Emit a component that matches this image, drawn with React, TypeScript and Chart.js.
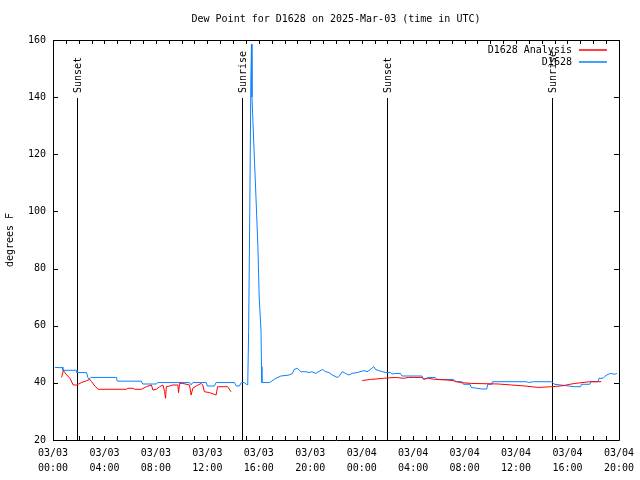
import { useEffect, useRef } from 'react';
import { Chart, registerables } from 'chart.js';

Chart.register(...registerables);

const FONT = '"DejaVu Sans Mono", "Liberation Mono", monospace';

const chartTitle = 'Dew Point for D1628 on 2025-Mar-03 (time in UTC)';
const yAxisTitle = 'degrees F';

// hours since 2025-03-03 00:00 UTC
const xTickHours = [0, 4, 8, 12, 16, 20, 24, 28, 32, 36, 40, 44];
const xTickDates = ['03/03', '03/03', '03/03', '03/03', '03/03', '03/03', '03/04', '03/04', '03/04', '03/04', '03/04', '03/04'];
const xTickTimes = ['00:00', '04:00', '08:00', '12:00', '16:00', '20:00', '00:00', '04:00', '08:00', '12:00', '16:00', '20:00'];

const sunEventHours = [1.86, 14.7, 25.97, 38.8];
const sunEventLabels = ['Sunset', 'Sunrise', 'Sunset', 'Sunrise'];

const analysisLabel = 'D1628 Analysis';
const analysisHours1 = [0.67, 0.8, 1.06, 1.32, 1.57, 1.84, 2.22, 2.61, 2.87, 3.0, 3.25, 3.51, 5.71, 5.83, 6.22, 6.35, 6.87, 7.26, 7.65, 7.77, 8.03, 8.29, 8.54, 8.68, 8.75, 8.81, 9.06, 9.32, 9.71, 9.76, 9.84, 10.09, 10.61, 10.74, 10.87, 11.13, 11.52, 11.64, 11.77, 12.16, 12.68, 12.8, 13.58, 13.84];
const analysisValues1 = [41.9, 44.3, 42.8, 41.6, 39.25, 39.25, 40.1, 40.75, 41.2, 40.4, 38.9, 37.75, 37.75, 38.1, 38.1, 37.75, 37.75, 38.65, 39.25, 37.5, 37.75, 38.65, 39.25, 36.9, 34.6, 38.65, 38.9, 39.25, 39.25, 36.6, 39.8, 39.8, 39.25, 35.75, 38.1, 38.9, 39.8, 39.25, 36.9, 36.6, 35.75, 38.65, 38.65, 36.9];
const analysisHours2 = [24.04, 24.69, 25.72, 26.62, 27.27, 27.65, 28.68, 28.82, 29.2, 29.72, 30.62, 31.14, 31.66, 32.56, 34.63, 35.66, 36.69, 37.72, 38.75, 39.66, 40.18, 40.57, 41.73, 42.63];
const analysisValues2 = [40.8, 41.2, 41.6, 41.9, 41.6, 41.9, 41.9, 41.35, 41.6, 41.2, 41.0, 40.75, 40.1, 39.8, 39.6, 39.25, 38.9, 38.4, 38.65, 39.0, 39.5, 39.8, 40.4, 40.4];

const obsLabel = 'D1628';
const obsHours = [0.15, 0.62, 0.7, 0.77, 1.84, 1.86, 2.61, 2.71, 2.81, 2.94, 4.93, 5.0, 6.87, 6.97, 8.03, 8.13, 10.61, 10.74, 10.87, 11.91, 12.0, 12.55, 12.68, 14.1, 14.25, 14.49, 14.64, 14.87, 15.03, 15.14, 15.21, 15.3, 15.38, 15.43, 15.47, 15.57, 15.67, 15.78, 15.93, 16.03, 16.17, 16.21, 16.24, 16.81, 16.94, 17.33, 17.72, 18.36, 18.62, 18.75, 19.0, 19.27, 19.65, 19.91, 20.12, 20.43, 20.94, 21.2, 21.46, 21.71, 22.1, 22.23, 22.49, 22.75, 23.0, 23.26, 23.65, 24.17, 24.42, 24.69, 24.94, 25.07, 25.33, 25.85, 26.24, 26.37, 26.62, 27.01, 27.14, 28.68, 28.82, 29.2, 29.72, 29.85, 31.14, 31.27, 31.78, 31.91, 32.43, 32.51, 32.95, 33.33, 33.72, 33.8, 34.11, 34.16, 36.82, 36.95, 37.34, 38.75, 38.88, 39.01, 39.92, 40.57, 41.03, 41.08, 41.73, 41.81, 42.37, 42.45, 42.76, 42.89, 43.15, 43.4, 43.66, 43.84];
const obsValues = [45.4, 45.3, 45.5, 44.4, 44.4, 43.6, 43.6, 41.9, 41.3, 41.9, 41.9, 40.6, 40.6, 39.6, 39.6, 40.1, 40.1, 39.3, 40.1, 40.1, 38.9, 38.9, 40.1, 40.1, 38.9, 38.9, 40.1, 40.1, 39.5, 39.3, 58, 100, 145, 158.5, 140, 128.5, 117, 105, 87.7, 70, 58.5, 45.7, 40.1, 40.1, 40.4, 41.6, 42.4, 42.75, 43.3, 44.7, 45.1, 43.9, 43.9, 43.6, 43.9, 43.3, 44.7, 43.9, 43.6, 42.75, 41.9, 42.2, 43.9, 43.3, 42.75, 43.3, 43.6, 44.3, 43.9, 44.7, 45.7, 44.7, 44.3, 43.6, 43.6, 43.1, 43.3, 43.3, 42.4, 42.4, 41.2, 41.9, 41.9, 41.2, 41.2, 40.4, 40.4, 39.5, 39.5, 38.4, 38.1, 37.85, 37.85, 39.5, 39.5, 40.4, 40.4, 40.1, 40.4, 40.4, 39.8, 39.5, 39.0, 38.65, 38.65, 39.5, 39.5, 40.4, 40.4, 41.6, 41.6, 42.2, 43.0, 43.3, 43.0, 43.3];

const analysisColor = '#ff0000';
const obsColor = '#0a80ff';

const gnuplotPlugin = {
  id: 'gnuplotDecor',
  beforeDatasetsDraw(chart: any) {
    const { ctx, chartArea, scales } = chart;
    const { bottom } = chartArea;
    const x = scales.x;
    ctx.save();
    ctx.strokeStyle = '#000';
    ctx.fillStyle = '#000';
    ctx.lineWidth = 1;
    ctx.font = `10px ${FONT}`;
    sunEventHours.forEach((h, i) => {
      const px = Math.round(x.getPixelForValue(h)) + 0.5;
      ctx.beginPath();
      ctx.moveTo(px, chartArea.top + 58);
      ctx.lineTo(px, bottom);
      ctx.stroke();
      ctx.save();
      ctx.translate(px + 1, chartArea.top + 53);
      ctx.rotate(-Math.PI / 2);
      ctx.textAlign = 'left';
      ctx.textBaseline = 'middle';
      ctx.fillText(sunEventLabels[i], 0, 0);
      ctx.restore();
    });
    ctx.restore();
  },
  afterDraw(chart: any) {
    const { ctx, chartArea, scales } = chart;
    const { left, right, top, bottom } = chartArea;
    const x = scales.x;
    const y = scales.y;
    ctx.save();
    ctx.strokeStyle = '#000';
    ctx.lineWidth = 1;
    ctx.beginPath();
    ctx.rect(Math.round(left) + 0.5, Math.round(top) + 0.5, Math.round(right - left), Math.round(bottom - top));
    ctx.stroke();
    ctx.beginPath();
    for (let h = x.min; h <= x.max; h += 1) {
      const px = Math.round(x.getPixelForValue(h)) + 0.5;
      ctx.moveTo(px, bottom);
      ctx.lineTo(px, bottom - 4);
      ctx.moveTo(px, top);
      ctx.lineTo(px, top + 4);
    }
    y.ticks.forEach((t: any) => {
      const py = Math.round(y.getPixelForValue(t.value)) + 0.5;
      ctx.moveTo(left, py);
      ctx.lineTo(left + 5, py);
      ctx.moveTo(right, py);
      ctx.lineTo(right - 5, py);
    });
    ctx.stroke();

    // legend
    ctx.font = `10px ${FONT}`;
    ctx.textAlign = 'right';
    ctx.textBaseline = 'middle';
    chart.data.datasets.forEach((ds: any, i: number) => {
      const ly = top + 10 + i * 12;
      ctx.fillStyle = '#000';
      ctx.fillText(ds.label, right - 47, ly);
      ctx.strokeStyle = ds.borderColor;
      ctx.lineWidth = 1.5;
      ctx.beginPath();
      ctx.moveTo(right - 40, ly);
      ctx.lineTo(right - 12, ly);
      ctx.stroke();
    });
    ctx.restore();
  },
};

export default function App() {
  const canvasRef = useRef<HTMLCanvasElement | null>(null);

  useEffect(() => {
    if (!canvasRef.current) return;
    const analysisData = [
      ...analysisHours1.map((h, i) => ({ x: h, y: analysisValues1[i] })),
      { x: 18, y: null },
      ...analysisHours2.map((h, i) => ({ x: h, y: analysisValues2[i] })),
    ];
    const obsData = obsHours.map((h, i) => ({ x: h, y: obsValues[i] }));

    const chart = new Chart(canvasRef.current, {
      type: 'line',
      data: {
        datasets: [
          {
            label: analysisLabel,
            data: analysisData as any,
            borderColor: analysisColor,
            borderWidth: 1,
            pointRadius: 0,
            fill: false,
            spanGaps: false,
            tension: 0,
          },
          {
            label: obsLabel,
            data: obsData,
            borderColor: obsColor,
            borderWidth: 1,
            pointRadius: 0,
            fill: false,
            tension: 0,
          },
        ],
      },
      options: {
        responsive: false,
        animation: false,
        layout: { padding: { left: 0, right: 19, top: 0, bottom: 0 } },
        plugins: {
          legend: { display: false },
          tooltip: { enabled: false },
          title: {
            display: true,
            fullSize: false,
            text: chartTitle,
            color: '#000',
            font: { family: FONT, size: 10, weight: 'normal' as any, lineHeight: 1.2 },
            padding: { top: 13, bottom: 15 },
          },
        },
        scales: {
          x: {
            type: 'linear',
            min: 0,
            max: 44,
            grid: { display: false, drawTicks: false },
            border: { display: false },
            ticks: {
              stepSize: 4,
              autoSkip: false,
              maxRotation: 0,
              minRotation: 0,
              padding: 6,
              color: '#000',
              font: { family: FONT, size: 10, lineHeight: 1.5 },
              callback: (value: any) => {
                const idx = xTickHours.indexOf(Number(value));
                return idx >= 0 ? [xTickDates[idx], xTickTimes[idx]] : '';
              },
            },
            afterFit: (scale: any) => {
              scale.height = 40;
            },
          },
          y: {
            min: 20,
            max: 160,
            grid: { display: false, drawTicks: false },
            border: { display: false },
            ticks: {
              stepSize: 20,
              padding: 7,
              color: '#000',
              font: { family: FONT, size: 10 },
            },
            title: {
              display: true,
              text: yAxisTitle,
              color: '#000',
              font: { family: FONT, size: 10 },
              padding: { top: 4, bottom: 0 },
            },
            afterFit: (scale: any) => {
              scale.width = 53;
            },
          },
        },
      },
      plugins: [gnuplotPlugin],
    });
    return () => chart.destroy();
  }, []);

  return (
    <div style={{ position: 'absolute', left: 0, top: 0, width: 640, height: 480, background: '#fff' }}>
      <canvas ref={canvasRef} width={640} height={480} style={{ display: 'block' }} />
    </div>
  );
}
